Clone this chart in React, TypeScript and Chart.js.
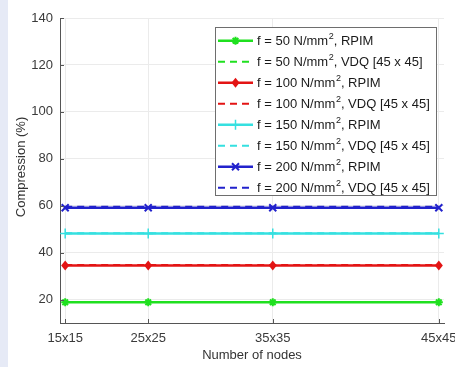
import React, { useEffect, useRef } from "react";
import { Chart, registerables } from "chart.js";

Chart.register(...registerables);

const categories = ["15x15", "25x25", "35x35", "45x45"];
const nodeCounts = [225, 625, 1225, 2025];
const yTicks = [20, 40, 60, 80, 100, 120, 140];

const rpim50 = [18.8, 18.8, 18.8, 18.8];
const vdq50 = [18.9, 18.9, 18.9, 18.9];
const rpim100 = [34.5, 34.5, 34.5, 34.5];
const vdq100 = [34.7, 34.7, 34.7, 34.7];
const rpim150 = [48.1, 48.1, 48.1, 48.1];
const vdq150 = [48.3, 48.3, 48.3, 48.3];
const rpim200 = [59.1, 59.1, 59.1, 59.1];
const vdq200 = [59.6, 59.6, 59.6, 59.6];

const forces = ["50", "100", "150", "200"];
const methods = ["RPIM", "VDQ [45 x 45]"];

const GREEN = "#1fe01f";
const RED = "#e31414";
const CYAN = "#35e0e0";
const BLUE = "#2222cc";
const FONT = '"Liberation Sans", Arial, Helvetica, sans-serif';

type Series = { values: number[]; color: string; dashed: boolean; marker: string; force: string; method: string };

const series: Series[] = [
  { values: rpim50, color: GREEN, dashed: false, marker: "star", force: forces[0], method: methods[0] },
  { values: vdq50, color: GREEN, dashed: true, marker: "none", force: forces[0], method: methods[1] },
  { values: rpim100, color: RED, dashed: false, marker: "rectRot", force: forces[1], method: methods[0] },
  { values: vdq100, color: RED, dashed: true, marker: "none", force: forces[1], method: methods[1] },
  { values: rpim150, color: CYAN, dashed: false, marker: "cross", force: forces[2], method: methods[0] },
  { values: vdq150, color: CYAN, dashed: true, marker: "none", force: forces[2], method: methods[1] },
  { values: rpim200, color: BLUE, dashed: false, marker: "crossRot", force: forces[3], method: methods[0] },
  { values: vdq200, color: BLUE, dashed: true, marker: "none", force: forces[3], method: methods[1] },
];

function drawMarker(ctx: CanvasRenderingContext2D, kind: string, x: number, y: number, color: string) {
  ctx.save();
  ctx.strokeStyle = color;
  ctx.fillStyle = color;
  ctx.lineWidth = 2;
  ctx.setLineDash([]);
  ctx.beginPath();
  if (kind === "rectRot") {
    const r = 5;
    ctx.moveTo(x, y - r);
    ctx.lineTo(x + r * 0.8, y);
    ctx.lineTo(x, y + r);
    ctx.lineTo(x - r * 0.8, y);
    ctx.closePath();
    ctx.fill();
  } else if (kind === "star") {
    const r = 4;
    ctx.moveTo(x - r, y);
    ctx.lineTo(x + r, y);
    ctx.moveTo(x, y - r);
    ctx.lineTo(x, y + r);
    ctx.moveTo(x - r * 0.7, y - r * 0.7);
    ctx.lineTo(x + r * 0.7, y + r * 0.7);
    ctx.moveTo(x - r * 0.7, y + r * 0.7);
    ctx.lineTo(x + r * 0.7, y - r * 0.7);
    ctx.stroke();
  } else if (kind === "cross") {
    const r = 5;
    ctx.lineWidth = 1.5;
    ctx.moveTo(x - r, y);
    ctx.lineTo(x + r, y);
    ctx.moveTo(x, y - r);
    ctx.lineTo(x, y + r);
    ctx.stroke();
  } else if (kind === "crossRot") {
    const r = 3.5;
    ctx.moveTo(x - r, y - r);
    ctx.lineTo(x + r, y + r);
    ctx.moveTo(x - r, y + r);
    ctx.lineTo(x + r, y - r);
    ctx.stroke();
  }
  ctx.restore();
}

const decorPlugin = {
  id: "decor",
  afterDatasetsDraw(chart: any) {
    const ctx: CanvasRenderingContext2D = chart.ctx;
    const xs = chart.scales.x;
    const ys = chart.scales.y;
    const area = chart.chartArea;
    series.forEach((s) => {
      if (s.marker === "none") return;
      s.values.forEach((v, i) => {
        drawMarker(ctx, s.marker, xs.getPixelForValue(nodeCounts[i]), ys.getPixelForValue(v), s.color);
      });
    });
    ctx.save();
    ctx.strokeStyle = "#555";
    ctx.lineWidth = 1;
    ctx.beginPath();
    nodeCounts.forEach((n) => {
      const px = Math.round(xs.getPixelForValue(n)) + 0.5;
      ctx.moveTo(px, area.bottom);
      ctx.lineTo(px, area.bottom - 4);
    });
    yTicks.forEach((t) => {
      const py = Math.round(ys.getPixelForValue(t)) + 0.5;
      ctx.moveTo(area.left, py);
      ctx.lineTo(area.left + 4, py);
    });
    ctx.stroke();
    ctx.restore();
  },
  afterDraw(chart: any) {
    const ctx: CanvasRenderingContext2D = chart.ctx;
    ctx.save();
    ctx.fillStyle = "#333";
    ctx.font = `13px ${FONT}`;
    ctx.textAlign = "center";
    ctx.textBaseline = "middle";
    ctx.fillText("Number of nodes", 252, 355);
    ctx.save();
    ctx.translate(21, 167);
    ctx.rotate(-Math.PI / 2);
    ctx.fillText("Compression (%)", 0, 0);
    ctx.restore();

    const bx = 215.5, by = 27.5, bw = 221, bh = 168;
    ctx.fillStyle = "#ffffff";
    ctx.fillRect(bx, by, bw, bh);
    ctx.strokeStyle = "#6e6e6e";
    ctx.lineWidth = 1;
    ctx.strokeRect(bx, by, bw, bh);
    series.forEach((s, i) => {
      const y = 40.7 + i * 21;
      ctx.save();
      ctx.strokeStyle = s.color;
      ctx.lineWidth = s.dashed ? 2 : 2.5;
      ctx.setLineDash(s.dashed ? [7, 5] : []);
      ctx.beginPath();
      ctx.moveTo(218, y);
      ctx.lineTo(253, y);
      ctx.stroke();
      ctx.restore();
      if (s.marker !== "none") drawMarker(ctx, s.marker, 235.5, y, s.color);
      ctx.fillStyle = "#1a1a1a";
      ctx.textAlign = "left";
      ctx.textBaseline = "middle";
      ctx.font = `13px ${FONT}`;
      let tx = 257;
      const t1 = `f = ${s.force} N/mm`;
      ctx.fillText(t1, tx, y + 1);
      tx += ctx.measureText(t1).width;
      ctx.font = `9px ${FONT}`;
      ctx.fillText("2", tx + 0.5, y - 4);
      tx += ctx.measureText("2").width + 0.5;
      ctx.font = `13px ${FONT}`;
      ctx.fillText(`, ${s.method}`, tx, y + 1);
    });
    ctx.restore();
  },
};

export default function App() {
  const ref = useRef<HTMLCanvasElement | null>(null);
  useEffect(() => {
    if (!ref.current) return;
    const chart = new Chart(ref.current, {
      type: "line",
      data: {
        datasets: series.map((s) => ({
          label: `f = ${s.force} N/mm2, ${s.method}`,
          data: s.values.map((v, j) => ({ x: nodeCounts[j], y: v })),
          borderColor: s.color,
          backgroundColor: s.color,
          borderWidth: s.dashed ? 2 : 2.5,
          borderDash: s.dashed ? [7, 5] : [],
          pointRadius: 0,
          fill: false,
          order: s.dashed ? 0 : 1,
        })),
      },
      options: {
        responsive: false,
        animation: false,
        layout: { padding: { top: 18, right: 11, left: 0, bottom: 0 } },
        plugins: { legend: { display: false }, tooltip: { enabled: false } },
        scales: {
          x: {
            type: "linear",
            min: 200,
            max: 2050,
            afterBuildTicks: (scale: any) => {
              scale.ticks = nodeCounts.map((v) => ({ value: v }));
            },
            afterFit: (scale: any) => {
              scale.height = 44;
              scale.paddingLeft = 0;
              scale.paddingRight = 0;
            },
            ticks: {
              autoSkip: false,
              maxRotation: 0,
              padding: 8,
              color: "#3a3a3a",
              font: { family: FONT, size: 13 },
              callback: (v: any) => {
                const idx = nodeCounts.indexOf(Number(v));
                return idx >= 0 ? categories[idx] : "";
              },
            },
            grid: { color: "#ebebeb", drawTicks: false },
            border: { color: "#555", width: 1 },
          },
          y: {
            type: "linear",
            min: 10,
            max: 140,
            afterBuildTicks: (scale: any) => {
              scale.ticks = yTicks.map((v) => ({ value: v }));
            },
            afterFit: (scale: any) => {
              scale.width = 60;
              scale.paddingTop = 0;
              scale.paddingBottom = 0;
            },
            ticks: {
              padding: 7,
              color: "#3a3a3a",
              font: { family: FONT, size: 13 },
            },
            grid: { color: "#ebebeb", drawTicks: false },
            border: { color: "#555", width: 1 },
          },
        },
      },
      plugins: [decorPlugin],
    });
    return () => chart.destroy();
  }, []);
  return (
    <div
      style={{
        position: "absolute",
        left: 0,
        top: 0,
        width: 455,
        height: 367,
        background: "linear-gradient(to right, #e6eaf6 0px, #e6eaf6 8px, #ffffff 8px, #ffffff 100%)",
      }}
    >
      <canvas ref={ref} width={455} height={367} style={{ display: "block" }} />
    </div>
  );
}
